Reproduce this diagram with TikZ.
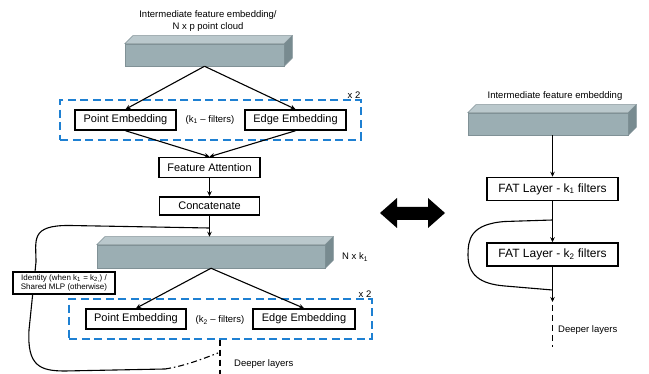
\documentclass[tikz,border=0pt]{standalone}
\usepackage{fontspec}
\setmainfont{Liberation Sans}
\usepackage{xcolor}
\usepackage{tikz}
\usetikzlibrary{arrows.meta, positioning, fit}

\definecolor{slabfront}{RGB}{155,174,179}
\definecolor{slabtop}{RGB}{186,200,204}
\definecolor{slabside}{RGB}{120,139,144}
\definecolor{slabedge}{RGB}{128,145,150}
\definecolor{loopblue}{RGB}{30,128,210}

\begin{document}
\begin{tikzpicture}[x=1pt, y=-1pt]
\tikzstyle{block} = [rectangle, draw, line width=1.5pt, minimum height=20pt, inner sep=0pt, font=\fontsize{11}{13}\selectfont]
\tikzstyle{slab} = [rectangle, fill=slabfront, draw=slabedge, line width=0.5pt, inner sep=0pt]
\tikzstyle{loop} = [rectangle, draw=loopblue, line width=1.6pt, dash pattern=on 8pt off 4.5pt]
\tikzstyle{note} = [font=\fontsize{9.5}{12}\selectfont, align=center, inner sep=1pt]
\tikzstyle{link} = [line width=1.1pt, -{Stealth[length=5pt,width=4.5pt]}]
\tikzstyle{wire} = [line width=1.1pt]

\useasboundingbox (0,0) rectangle (649,374);

% left: FAT layer in detail
\node[note] (title1) at (208,21) {Intermediate feature embedding/\\N x p point cloud};
\node[slab, minimum width=159pt, minimum height=22pt] (bar1) at (204.5,55) {};
\node[block, minimum width=101pt] (pe1) at (125.5,120) {Point Embedding};
\node[block, minimum width=101pt] (ee1) at (295.5,120) {Edge Embedding};
\node[note] (filt1) at (210,120) {(k\textsubscript{1} -- filters)};
\node[loop, fit=(pe1)(ee1), inner xsep=14pt, inner ysep=9pt] (rep1) {};
\node[note, anchor=south east] (times1) at (rep1.north east) {x 2};
\node[block, minimum width=101pt] (fa) at (209.5,167.5) {Feature Attention};
\node[block, minimum width=100pt, minimum height=18pt] (cat) at (209.5,206) {Concatenate};

\node[slab, minimum width=228pt, minimum height=23pt] (bar2) at (211,256.5) {};
\node[note, anchor=west] (dim2) at (341,257) {N x k\textsubscript{1}};
\node[block, minimum width=100pt] (pe2) at (136,319) {Point Embedding};
\node[block, minimum width=102pt] (ee2) at (304,319) {Edge Embedding};
\node[note] (filt2) at (220,320) {(k\textsubscript{2} -- filters)};
\node[loop, fit=(pe2)(ee2), inner xsep=16pt, inner ysep=9pt] (rep2) {};
\node[note, anchor=south east] (times2) at (rep2.north east) {x 2};
\node[note, anchor=west] (deep1) at (233,364) {Deeper layers};

\coordinate (skip1) at (209,228);
\coordinate (tail1) at (218,353);
\coordinate (end1) at (220,374);

% right: stacked FAT layers
\node[note] (title2) at (555,96) {Intermediate feature embedding};
\node[slab, minimum width=160pt, minimum height=22pt] (bar3) at (548,124) {};
\node[block, minimum width=131pt, minimum height=23pt, font=\fontsize{12}{14}\selectfont] (fat1) at (552.5,189) {FAT Layer - k\textsubscript{1} filters};
\node[block, minimum width=131pt, minimum height=23pt, font=\fontsize{12}{14}\selectfont] (fat2) at (552.5,254.5) {FAT Layer - k\textsubscript{2} filters};
\node[note, anchor=west] (deep2) at (557,330) {Deeper layers};

\coordinate (skip2) at (552.5,220);
\coordinate (join2) at (552.5,290);
\coordinate (out2) at (552.5,302);
\coordinate (end2) at (552.5,347);

% slab faces
\foreach \s in {bar1,bar2,bar3} {
  \filldraw[fill=slabtop, draw=slabedge, line width=0.5pt] (\s.north west) -- ++(8,-8) -- ([shift={(8,-8)}]\s.north east) -- (\s.north east) -- cycle;
  \filldraw[fill=slabside, draw=slabedge, line width=0.5pt] (\s.north east) -- ++(8,-8) -- ([shift={(8,-8)}]\s.south east) -- (\s.south east) -- cycle;
}

\draw[link] (bar1.south) -- (pe1.north);
\draw[link] (bar1.south) -- (ee1.north);
\draw[link] (pe1.south) -- (fa.north);
\draw[link] (ee1.south) -- (fa.north);
\draw[link] (fa) -- (cat);
\draw[link] (cat.south) -- ++(0,21);
\draw[link] (bar2.south) -- (pe2.north);
\draw[link] (bar2.south) -- (ee2.north);

\draw[wire] (skip1) -- (70,225.5) .. controls (30,225) and (36,240) .. (36,262) -- (29,330) .. controls (27,366) and (40,371) .. (65,371) -- (165,369);
\draw[wire, dash pattern=on 6pt off 3pt on 1.5pt off 3pt] (165,369) .. controls (185,366) and (205,358) .. (tail1);
\draw[line width=1.3pt, dash pattern=on 6pt off 4pt] (rep2.south -| end1) -- (end1);

\node[block, line width=1.2pt, minimum width=102pt, minimum height=22pt, fill=white, font=\fontsize{8}{9.5}\selectfont, align=center] (ident) at (64,283) {Identity (when k\textsubscript{1} = k\textsubscript{2,}) /\\Shared MLP (otherwise)};

\draw[link] (bar3.south -| fat1.north) -- (fat1.north);
\draw[link] (fat1) -- (fat2);
\draw[link] (fat2) -- (out2);
\draw[line width=1.3pt, dash pattern=on 6pt off 4pt] (out2) ++(0,3) -- (end2);
\draw[wire] (skip2) -- (505,221.5) .. controls (470,224) and (468,240) .. (468,255) .. controls (468,275) and (480,284) .. (505,286) -- (join2);

% swap arrow
\fill (380,213) -- (397,198) -- (397,207) -- (428,207) -- (428,198) -- (445,213) -- (428,228) -- (428,220) -- (397,220) -- (397,228) -- cycle;

\end{tikzpicture}
\end{document}
